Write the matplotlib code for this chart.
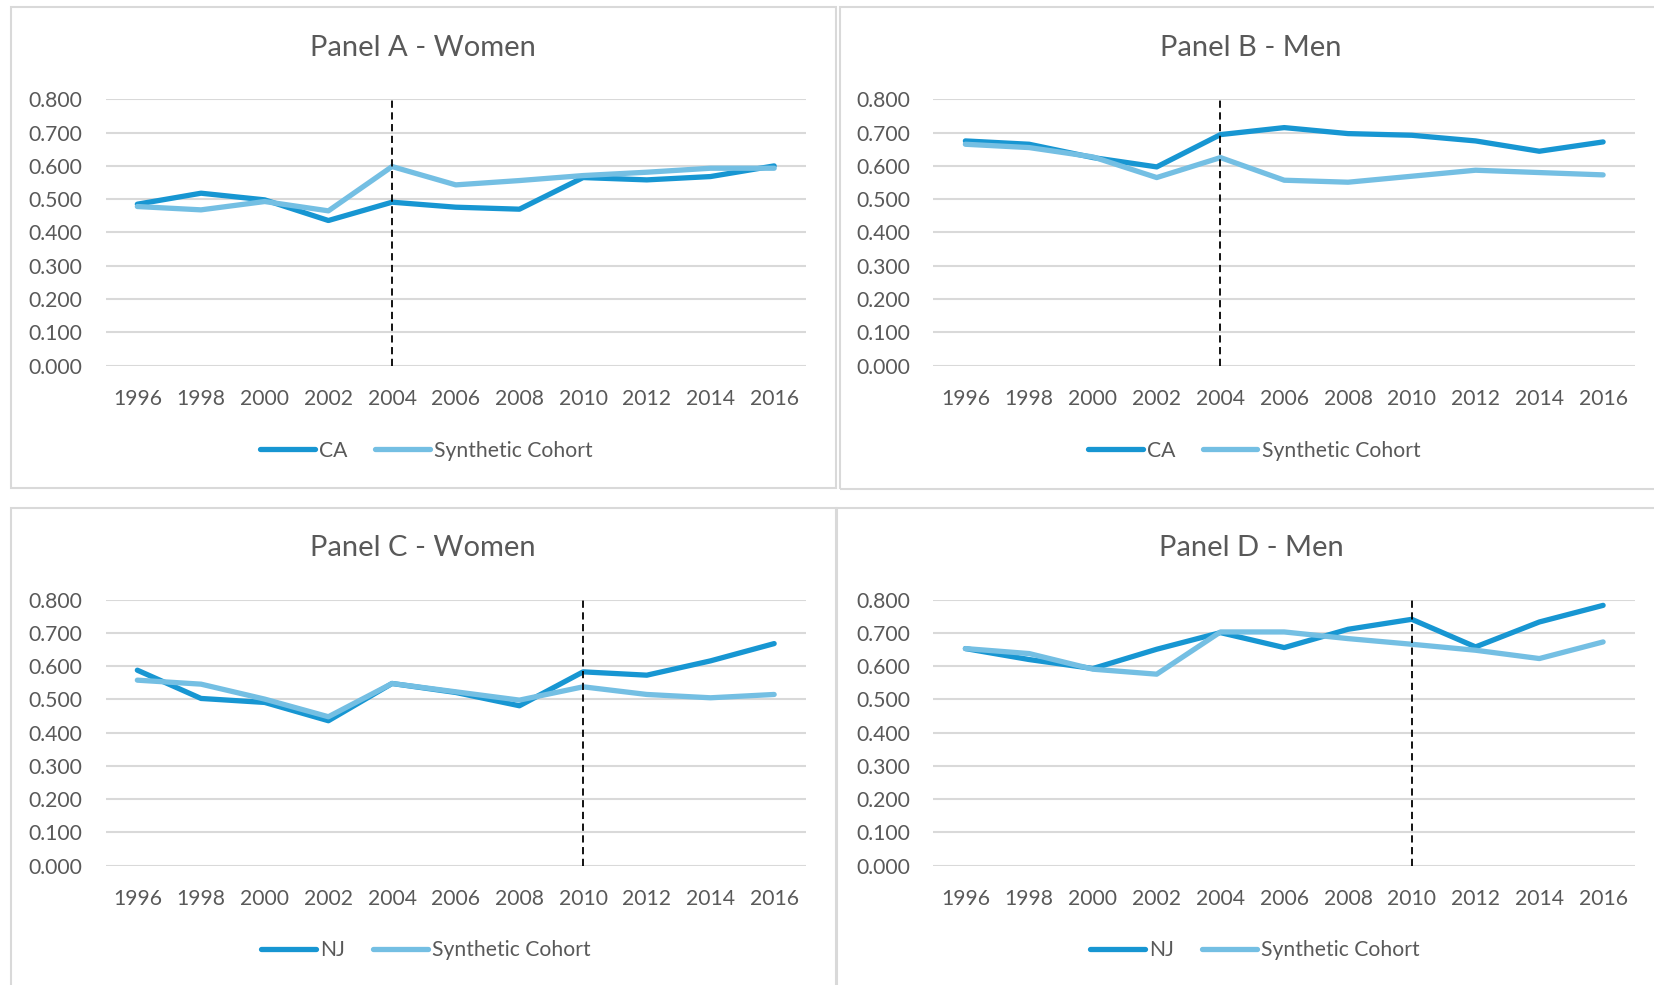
import matplotlib
matplotlib.use("Agg")
import matplotlib.pyplot as plt
from matplotlib.patches import Rectangle
from matplotlib.ticker import FormatStrFormatter

years = ["1996", "1998", "2000", "2002", "2004", "2006", "2008", "2010", "2012", "2014", "2016"]
y_ticks = [0.0, 0.1, 0.2, 0.3, 0.4, 0.5, 0.6, 0.7, 0.8]

a_ca = [0.485, 0.518, 0.498, 0.436, 0.491, 0.476, 0.470, 0.565, 0.558, 0.568, 0.600]
a_syn = [0.478, 0.468, 0.493, 0.465, 0.598, 0.543, 0.556, 0.571, 0.581, 0.593, 0.593]
b_ca = [0.675, 0.665, 0.625, 0.597, 0.694, 0.715, 0.697, 0.692, 0.675, 0.644, 0.672]
b_syn = [0.665, 0.655, 0.627, 0.565, 0.625, 0.557, 0.551, 0.569, 0.587, 0.580, 0.573]
c_nj = [0.588, 0.503, 0.491, 0.436, 0.548, 0.521, 0.481, 0.583, 0.573, 0.616, 0.668]
c_syn = [0.558, 0.546, 0.501, 0.448, 0.548, 0.523, 0.498, 0.538, 0.515, 0.505, 0.515]
d_nj = [0.653, 0.620, 0.593, 0.651, 0.701, 0.656, 0.711, 0.741, 0.658, 0.733, 0.783]
d_syn = [0.653, 0.638, 0.591, 0.576, 0.703, 0.703, 0.683, 0.666, 0.648, 0.623, 0.673]

panels = [
    dict(title="Panel A - Women", state="CA", s1=a_ca, s2=a_syn, treat="2004"),
    dict(title="Panel B - Men", state="CA", s1=b_ca, s2=b_syn, treat="2004"),
    dict(title="Panel C - Women", state="NJ", s1=c_nj, s2=c_syn, treat="2010"),
    dict(title="Panel D - Men", state="NJ", s1=d_nj, s2=d_syn, treat="2010"),
]

W, H = 1654, 985
plt.rcParams['font.family'] = ['Lato', 'DejaVu Sans']
TXT = "#595959"
DARK = "#1796D2"
LIGHT = "#74BFE3"
GRID = "#D9D9D9"

fig = plt.figure(figsize=(W / 100, H / 100), dpi=100)
fig.patch.set_facecolor("white")

frames = [(10.7, 7.3, 836.4, 488), (839.6, 7.3, 1660, 489),
          (10.7, 507.7, 835.5, 990), (837.5, 507.7, 1660, 990)]
for (x0, y0, x1, y1) in frames:
    fig.patches.append(Rectangle((x0 / W, 1 - y1 / H), (x1 - x0) / W, (y1 - y0) / H,
                                 transform=fig.transFigure, fill=False,
                                 edgecolor=GRID, linewidth=1.5))

areas = [(105.5, 806, 99.3, 365.7), (933.5, 1635, 99.3, 365.7),
         (105.5, 806, 599.7, 865.7), (933.5, 1635, 599.7, 865.7)]
title_pos = [(423, 47.5), (1251, 47.5), (423, 548), (1251, 548)]
legend_pos = [(426.5, 450.7), (1254, 450.7), (426, 950), (1255, 950)]

fs = 15.2
for p, (x0, x1, yt, yb), (tx, ty), (lx, ly) in zip(panels, areas, title_pos, legend_pos):
    ax = fig.add_axes([x0 / W, 1 - yb / H, (x1 - x0) / W, (yb - yt) / H])
    x = list(range(len(years)))
    ax.plot(x, p["s1"], color=DARK, lw=3.8, solid_capstyle='round', solid_joinstyle='round',
            label=p["state"], zorder=3)
    ax.plot(x, p["s2"], color=LIGHT, lw=3.8, solid_capstyle='round', solid_joinstyle='round',
            label="Synthetic Cohort", zorder=4)
    ti = years.index(p["treat"])
    ax.axvline(ti, ymin=0, ymax=1.01, color="black", lw=1.3, ls=(0, (4, 2.5)),
               clip_on=False, zorder=5)
    ax.set_xlim(-0.5, len(years) - 0.5)
    ax.set_ylim(0, 0.8)
    ax.set_yticks(y_ticks)
    ax.yaxis.set_major_formatter(FormatStrFormatter("%.3f"))
    ax.set_xticks(x)
    ax.set_xticklabels(years)
    ax.grid(axis='y', color=GRID, lw=1.5, zorder=0)
    ax.set_axisbelow(True)
    for s in ax.spines.values():
        s.set_visible(False)
    ax.tick_params(axis='both', length=0, labelsize=fs, labelcolor=TXT)
    ax.tick_params(axis='y', pad=16.5)
    ax.tick_params(axis='x', pad=16.5)
    fig.text(tx / W, 1 - ty / H, p["title"], ha='center', va='center',
             fontsize=21, color=TXT)
    leg = ax.legend(loc='center', bbox_to_anchor=(lx / W, 1 - ly / H),
                    bbox_transform=fig.transFigure, ncol=2, frameon=False,
                    fontsize=fs, handlelength=2.6, handletextpad=0.2,
                    columnspacing=1.3, borderpad=0, borderaxespad=0)
    for t in leg.get_texts():
        t.set_color(TXT)

fig.savefig("out.png", dpi=100, facecolor="white")
